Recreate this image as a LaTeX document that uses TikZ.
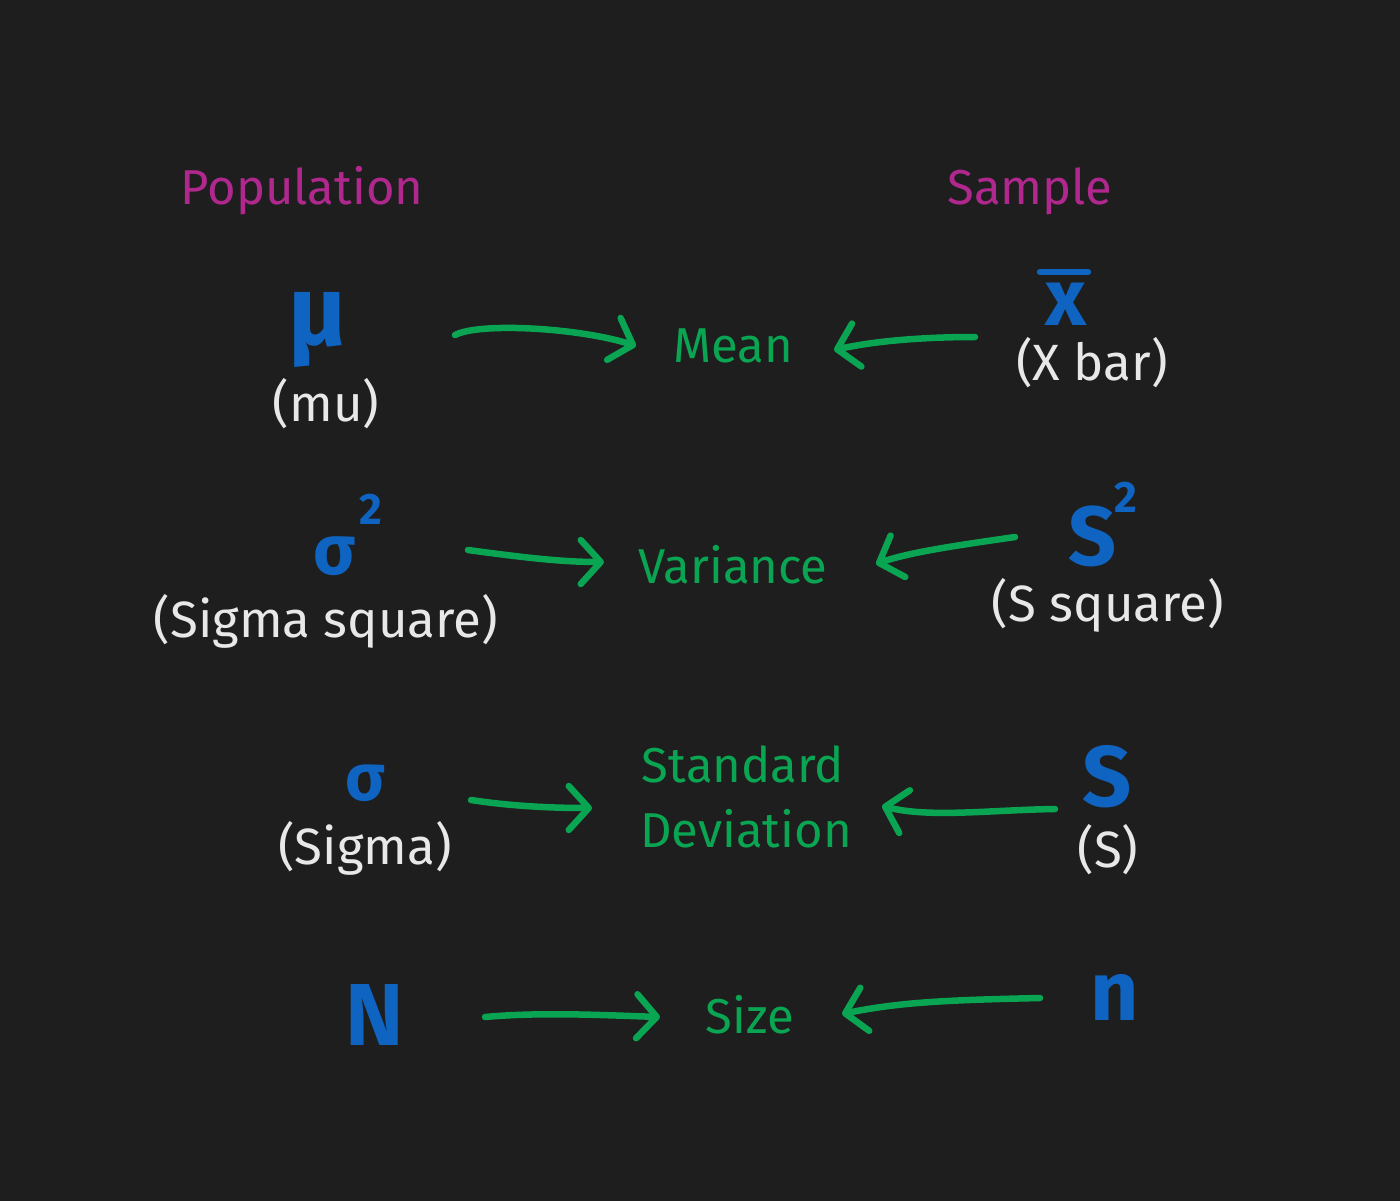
\documentclass[tikz,border=0pt]{standalone}
\usepackage{fontspec}
\setmainfont{Fira Sans}
\usetikzlibrary{arrows.meta}
\definecolor{bg}{HTML}{1E1E1E}
\definecolor{grn}{HTML}{0AA552}
\definecolor{blu}{HTML}{0F63C1}
\definecolor{mag}{HTML}{B0288E}
\definecolor{wht}{HTML}{E8E8E8}
\tikzset{
  head/.style={text=mag, anchor=base, inner sep=0pt, font=\fontsize{49}{52}\selectfont},
  lbl/.style={text=wht, anchor=base, inner sep=0pt, font=\fontsize{51}{54}\selectfont},
  term/.style={text=grn, anchor=base, inner sep=0pt, font=\fontsize{49}{52}\selectfont},
  sym/.style={text=blu, anchor=base, inner sep=0pt, font=\bfseries\fontsize{#1}{#1}\selectfont},
  flow/.style={draw=grn, line width=6.5pt, line cap=round, line join=round,
    -{Straight Barb[length=20pt, width=44pt, line cap=round, line join=round]}}
}
\begin{document}
\begin{tikzpicture}[x=1pt, y=-1pt]
\fill[bg] (0,0) rectangle (1400,1201);
\useasboundingbox (0,0) rectangle (1400,1201);
% headings
\node[head] (pop) at (302,205) {Population};
\node[head] (smp) at (1030,205) {Sample};
% population symbols
\node[sym=100] (mu) at (318,345) {μ};
\node[lbl] (mulbl) at (326,421) {(mu)};
\node[sym=70] (sig2) at (335,574) {σ};
\node[sym=44] (sig2e) at (371,524) {2};
\node[lbl] (sig2lbl) at (326,637) {(Sigma square)};
\node[sym=66] (sig) at (365,800) {σ};
\node[lbl] (siglbl) at (365,864) {(Sigma)};
\node[sym=88] (bigN) at (375,1045) {N};
% sample symbols
\node[sym=80] (xb) at (1066,325) {x};
\draw[blu, line width=6.5pt, line cap=round] (1040,272) -- (1088,272);
\node[lbl] (xblbl) at (1092,380) {(X bar)};
\node[sym=84] (s2) at (1093,565) {S};
\node[sym=44] (s2e) at (1126,512) {2};
\node[lbl] (s2lbl) at (1108,621) {(S square)};
\node[sym=86] (s) at (1107,806) {S};
\node[lbl] (slbl) at (1108,867) {(S)};
\node[sym=84] (smalln) at (1115,1020) {n};
% terms
\node[term] (mean) at (733,362) {Mean};
\node[term] (var) at (733,583) {Variance};
\node[term] (sd1) at (743,782) {Standard};
\node[term] (sd2) at (746,847) {Deviation};
\node[term] (size) at (750,1033) {Size};
% connector ends
\coordinate (muO) at (455,335);
\coordinate (meanL) at (636,346);
\coordinate (xbO) at (975,337);
\coordinate (meanR) at (834,350);
\coordinate (sig2O) at (468,550);
\coordinate (varL) at (604,562);
\coordinate (s2O) at (1015,537);
\coordinate (varR) at (876,564);
\coordinate (sigO) at (471,800);
\coordinate (sdL) at (592,808);
\coordinate (sO) at (1055,809);
\coordinate (sdR) at (882,806);
\coordinate (NO) at (485,1017);
\coordinate (sizeL) at (660,1017);
\coordinate (nO) at (1040,998);
\coordinate (sizeR) at (842,1014);
% connectors
\draw[flow] (muO) .. controls (480,322) and (580,328) .. (meanL);
\draw[flow] (xbO) .. controls (930,337) and (880,340) .. (meanR);
\draw[flow] (sig2O) .. controls (520,557) and (560,562) .. (varL);
\draw[flow] (s2O) .. controls (960,545) and (910,552) .. (varR);
\draw[flow] (sigO) .. controls (510,806) and (550,808) .. (sdL);
\draw[flow] (sO) .. controls (990,810) and (930,818) .. (sdR);
\draw[flow] (NO) .. controls (540,1012) and (600,1015) .. (sizeL);
\draw[flow] (nO) .. controls (950,1000) and (900,1002) .. (sizeR);
\end{tikzpicture}
\end{document}
